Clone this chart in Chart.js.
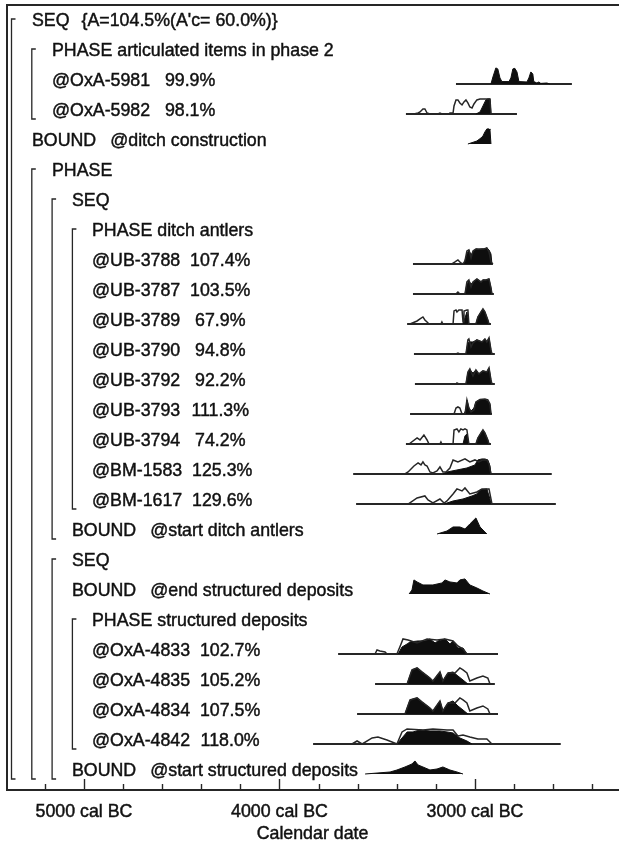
<!DOCTYPE html>
<html>
<head>
<meta charset="utf-8">
<title>Calendar date multiplot</title>
<script src="https://cdn.jsdelivr.net/npm/chart.js@4.4.0/dist/chart.umd.min.js"></script>
<style>
  html, body { margin: 0; padding: 0; background: #fff; }
  #wrap { width: 619px; height: 854px; }
</style>
</head>
<body>
<div id="wrap"><canvas id="chart" width="619" height="854"></canvas></div>
<script>
// ---- labels, one per row from top to bottom ----
const rowNames = [
  'SEQ', 'PHASE', '@OxA-5981', '@OxA-5982', 'BOUND', 'PHASE', 'SEQ', 'PHASE',
  '@UB-3788', '@UB-3787', '@UB-3789', '@UB-3790', '@UB-3792', '@UB-3793', '@UB-3794',
  '@BM-1583', '@BM-1617', 'BOUND', 'SEQ', 'BOUND', 'PHASE',
  '@OxA-4833', '@OxA-4835', '@OxA-4834', '@OxA-4842', 'BOUND'
];
const rowNotes = [
  "{A=104.5%(A'c= 60.0%)}", 'articulated items in phase 2', '99.9%', '98.1%',
  '@ditch construction', '', '', 'ditch antlers',
  '107.4%', '103.5%', '67.9%', '94.8%', '92.2%', '111.3%', '74.2%',
  '125.3%', '129.6%', '@start ditch antlers', '', '@end structured deposits', 'structured deposits',
  '102.7%', '105.2%', '107.5%', '118.0%', '@start structured deposits'
];
// nesting depth of each row
const rowDepth = [0, 1, 1, 1, 0, 1, 2, 3, 3, 3, 3, 3, 3, 3, 3, 3, 3, 2, 2, 2, 3, 3, 3, 3, 3, 2];
// SEQ / PHASE groups: [depth, first row, last row]
const groups = [[0, 0, 25], [1, 1, 3], [1, 5, 25], [2, 6, 17], [3, 7, 16], [2, 18, 25], [3, 20, 24]];

// ---- calendar axis (cal BC) ----
const axisTitle = 'Calendar date';
const axisFrom = 5399;
const axisTo = 2263;
const tickStep = 200;
const labelStep = 1000;

// ---- distributions: [year cal BC, relative probability] ----
const oxa5981Range = [3097, 2504];
const oxa5981Post = [[2918,0],[2908,0.35],[2893,0.8],[2883,0.75],[2872,0.3],[2862,0.12],[2826,0.12],[2816,0.3],[2806,0.75],[2796,0.78],[2785,0.6],[2775,0.12],[2734,0.1],[2724,0.3],[2714,0.6],[2704,0.5],[2699,0.12],[2683,0.05],[2673,0.1],[2663,0.03],[2632,0.05],[2617,0]];

const oxa5982Range = [3353, 2785];
const oxa5982Lik = [[3312,0],[3291,0.05],[3281,0.1],[3266,0.25],[3256,0.25],[3245,0.05],[3230,0],[3189,0],[3179,0.05],[3169,0],[3133,0],[3128,0.05],[3112,0.05],[3107,0.4],[3097,0.7],[3087,0.7],[3077,0.55],[3066,0.45],[3056,0.6],[3046,0.7],[3036,0.55],[3026,0.35],[3015,0.3],[3005,0.5],[2990,0.7],[2974,0.75],[2954,0.75],[2934,0.75],[2923,0.75],[2918,0]];
const oxa5982Post = [[2995,0],[2974,0.1],[2959,0.4],[2944,0.7],[2934,0.75],[2923,0.75],[2918,0]];

const ditchConstructionPost = [[3036,0],[3005,0.1],[2990,0.15],[2969,0.3],[2959,0.4],[2949,0.6],[2939,0.75],[2928,0.75],[2923,0.7],[2918,0]];

const ub3788Range = [3317, 2908];
const ub3788Lik = [[3118,0],[3102,0.1],[3087,0.2],[3072,0.05],[3061,0],[3051,0.15],[3041,0.65],[3031,0.7],[3020,0.3],[3010,0.65],[2995,0.75],[2974,0.75],[2954,0.75],[2939,0.8],[2928,0.6],[2918,0.1],[2908,0]];
const ub3788Post = [[3056,0],[3041,0.5],[3031,0.7],[3020,0.45],[3010,0.6],[2995,0.75],[2980,0.72],[2964,0.75],[2949,0.75],[2939,0.8],[2928,0.7],[2918,0.5],[2913,0]];

const ub3787Range = [3317, 2903];
const ub3787Lik = [[3097,0],[3087,0.1],[3077,0],[3051,0],[3041,0.6],[3031,0.7],[3020,0.35],[3010,0.6],[2990,0.75],[2969,0.6],[2959,0.7],[2944,0.7],[2928,0.75],[2918,0.3],[2913,0]];
const ub3787Post = [[3097,0],[3087,0.1],[3077,0],[3051,0],[3041,0.5],[3031,0.65],[3020,0.5],[3005,0.6],[2990,0.75],[2969,0.6],[2959,0.7],[2944,0.7],[2928,0.75],[2918,0.3],[2913,0]];

const ub3789Range = [3347, 2918];
const ub3789Lik = [[3332,0],[3296,0.15],[3281,0.25],[3266,0.35],[3256,0.2],[3245,0.1],[3235,0],[3174,0],[3169,0.1],[3164,0],[3112,0],[3107,0.65],[3097,0.7],[3092,0.6],[3082,0.7],[3066,0.7],[3061,0.1],[3056,0.65],[3041,0.7],[3036,0.7],[3031,0],[2995,0],[2985,0.35],[2969,0.6],[2959,0.75],[2949,0.6],[2934,0.2],[2928,0]];
const ub3789Post = [[3061,0],[3051,0.3],[3041,0.6],[3031,0],[2995,0],[2985,0.35],[2969,0.6],[2959,0.75],[2949,0.6],[2934,0.2],[2928,0]];

const ub3790Range = [3312, 2898];
const ub3790Lik = [[3097,0],[3087,0.05],[3077,0],[3046,0],[3036,0.7],[3031,0.75],[3020,0.35],[3010,0.55],[2990,0.7],[2964,0.6],[2949,0.75],[2939,0.6],[2928,0.8],[2918,0.2],[2913,0]];
const ub3790Post = [[3046,0],[3036,0.55],[3026,0.6],[3010,0.6],[2990,0.7],[2964,0.6],[2949,0.75],[2939,0.6],[2928,0.8],[2918,0.2],[2913,0]];

const ub3792Range = [3307, 2898];
const ub3792Lik = [[3097,0],[3092,0.05],[3082,0],[3046,0],[3036,0.6],[3026,0.75],[3010,0.4],[2995,0.7],[2980,0.5],[2959,0.65],[2939,0.6],[2928,0.8],[2918,0.2],[2913,0]];
const ub3792Post = [[3046,0],[3036,0.55],[3026,0.7],[3010,0.55],[2995,0.7],[2980,0.5],[2959,0.65],[2939,0.6],[2928,0.8],[2918,0.2],[2913,0]];

const ub3793Range = [3332, 2913];
const ub3793Lik = [[3107,0],[3097,0.3],[3087,0.35],[3077,0.3],[3066,0],[3051,0],[3041,0.7],[3031,0.3],[3020,0.1],[3005,0.2],[2995,0.6],[2974,0.72],[2949,0.75],[2934,0.7],[2923,0.5],[2918,0]];
const ub3793Post = [[3056,0],[3046,0.2],[3041,0.7],[3031,0.3],[3020,0.15],[3005,0.3],[2995,0.6],[2974,0.72],[2949,0.72],[2934,0.65],[2923,0.45],[2918,0]];

const ub3794Range = [3353, 2918];
const ub3794Lik = [[3337,0],[3296,0.3],[3281,0.2],[3261,0.45],[3245,0.2],[3235,0],[3179,0],[3174,0.1],[3169,0],[3112,0],[3107,0.7],[3092,0.75],[3082,0.6],[3072,0.75],[3061,0.7],[3051,0.75],[3041,0.7],[3031,0],[2995,0],[2985,0.3],[2969,0.55],[2959,0.7],[2949,0.55],[2934,0.2],[2928,0]];
const ub3794Post = [[3061,0],[3051,0.4],[3041,0.5],[3031,0],[2995,0],[2985,0.3],[2969,0.55],[2959,0.7],[2949,0.55],[2934,0.2],[2928,0]];

const bm1583Range = [3623, 2607];
const bm1583Lik = [[3358,0],[3342,0.1],[3312,0.4],[3291,0.55],[3276,0.45],[3266,0.6],[3256,0.45],[3245,0.4],[3230,0.1],[3215,0.05],[3194,0.15],[3179,0.35],[3164,0.1],[3148,0.1],[3128,0.3],[3112,0.7],[3087,0.6],[3051,0.75],[3026,0.6],[3000,0.7],[2980,0.6],[2959,0.7],[2939,0.7],[2928,0.5],[2918,0]];
const bm1583Post = [[3164,0],[3143,0.1],[3092,0.2],[3041,0.3],[3000,0.45],[2985,0.7],[2964,0.75],[2949,0.75],[2934,0.7],[2923,0.4],[2918,0]];

const bm1617Range = [3608, 2586];
const bm1617Lik = [[3342,0],[3296,0.3],[3256,0.4],[3240,0.2],[3215,0.05],[3179,0.25],[3158,0.05],[3143,0.15],[3112,0.5],[3092,0.75],[3066,0.65],[3051,0.8],[3026,0.5],[2990,0.6],[2964,0.75],[2928,0.75],[2913,0]];
const bm1617Post = [[3158,0],[3143,0.05],[3112,0.15],[3061,0.25],[3015,0.4],[2990,0.5],[2974,0.7],[2939,0.75],[2923,0.25],[2918,0]];

const startDitchAntlersPost = [[3194,0],[3143,0.15],[3112,0.35],[3077,0.35],[3051,0.25],[3026,0.5],[2995,0.8],[2974,0.35],[2949,0.1],[2939,0]];

const endStructuredPost = [[3337,0],[3322,0.2],[3312,0.7],[3296,0.6],[3266,0.45],[3215,0.45],[3169,0.55],[3153,0.7],[3128,0.6],[3092,0.55],[3077,0.7],[3051,0.75],[3026,0.45],[2990,0.3],[2959,0.15],[2923,0]];

const oxa4833Range = [3700, 2882];
const oxa4833Lik = [[3511,0],[3501,0.2],[3486,0.15],[3460,0.1],[3450,0],[3399,0],[3378,0.5],[3368,0.75],[3342,0.7],[3296,0.55],[3245,0.75],[3194,0.7],[3153,0.75],[3112,0.65],[3087,0.4],[3061,0.25],[3041,0]];
const oxa4833Post = [[3393,0],[3373,0.35],[3347,0.5],[3332,0.6],[3291,0.65],[3256,0.65],[3230,0.75],[3204,0.55],[3189,0.65],[3153,0.75],[3128,0.5],[3112,0.65],[3087,0.3],[3061,0.3],[3041,0]];

const oxa4835Range = [3511, 2898];
const oxa4835Lik = [[3347,0],[3322,0.7],[3296,0.8],[3271,0.6],[3230,0.3],[3215,0.15],[3179,0.6],[3164,0.15],[3138,0.55],[3102,0.55],[3077,0.8],[3061,0.7],[3041,0.55],[3026,0.15],[2990,0.3],[2959,0.4],[2934,0.3],[2923,0]];
const oxa4835Post = [[3347,0],[3322,0.7],[3296,0.8],[3271,0.6],[3230,0.3],[3215,0.15],[3179,0.6],[3164,0.15],[3138,0.55],[3112,0.6],[3087,0.4],[3061,0.2],[3036,0]];

const oxa4834Range = [3603, 2882];
const oxa4834Lik = [[3358,0],[3332,0.7],[3296,0.8],[3271,0.6],[3230,0.3],[3215,0.15],[3179,0.65],[3164,0.15],[3138,0.55],[3102,0.55],[3077,0.8],[3061,0.7],[3041,0.55],[3026,0.15],[2990,0.3],[2959,0.4],[2934,0.25],[2923,0]];
const oxa4834Post = [[3358,0],[3332,0.7],[3296,0.8],[3271,0.6],[3230,0.3],[3215,0.15],[3179,0.65],[3164,0.15],[3138,0.55],[3112,0.65],[3087,0.4],[3061,0.2],[3036,0]];

const oxa4842Range = [3828, 2561];
const oxa4842Lik = [[3629,0],[3603,0.15],[3577,0],[3526,0.3],[3496,0.35],[3450,0.2],[3399,0],[3373,0.6],[3347,0.75],[3266,0.7],[3215,0.75],[3143,0.7],[3112,0.7],[3087,0.4],[3061,0.45],[3026,0.35],[2985,0.25],[2939,0.25],[2913,0]];
const oxa4842Post = [[3399,0],[3373,0.3],[3347,0.6],[3317,0.6],[3281,0.7],[3230,0.65],[3179,0.65],[3143,0.6],[3112,0.55],[3077,0.3],[3041,0.15],[3015,0]];

const startStructuredPost = [[3562,0],[3434,0.1],[3399,0.2],[3358,0.35],[3322,0.5],[3307,0.65],[3291,0.45],[3266,0.35],[3230,0.2],[3194,0.25],[3164,0.35],[3128,0.2],[3092,0.1],[3061,0]];

// which row each distribution belongs to
const dists = [
  { row: 2, range: oxa5981Range, post: oxa5981Post },
  { row: 3, range: oxa5982Range, lik: oxa5982Lik, post: oxa5982Post },
  { row: 4, post: ditchConstructionPost },
  { row: 8, range: ub3788Range, lik: ub3788Lik, post: ub3788Post },
  { row: 9, range: ub3787Range, lik: ub3787Lik, post: ub3787Post },
  { row: 10, range: ub3789Range, lik: ub3789Lik, post: ub3789Post },
  { row: 11, range: ub3790Range, lik: ub3790Lik, post: ub3790Post },
  { row: 12, range: ub3792Range, lik: ub3792Lik, post: ub3792Post },
  { row: 13, range: ub3793Range, lik: ub3793Lik, post: ub3793Post },
  { row: 14, range: ub3794Range, lik: ub3794Lik, post: ub3794Post },
  { row: 15, range: bm1583Range, lik: bm1583Lik, post: bm1583Post },
  { row: 16, range: bm1617Range, lik: bm1617Lik, post: bm1617Post },
  { row: 17, post: startDitchAntlersPost },
  { row: 19, post: endStructuredPost },
  { row: 21, range: oxa4833Range, lik: oxa4833Lik, post: oxa4833Post },
  { row: 22, range: oxa4835Range, lik: oxa4835Lik, post: oxa4835Post },
  { row: 23, range: oxa4834Range, lik: oxa4834Lik, post: oxa4834Post },
  { row: 24, range: oxa4842Range, lik: oxa4842Lik, post: oxa4842Post },
  { row: 25, post: startStructuredPost }
];

const FONT = '"Liberation Sans", Arial, Helvetica, sans-serif';
const FONT_SIZE = 17.8;
const INK = '#111';
const LINE = '#262626';
const peakScale = 0.67; // full probability = 2/3 of a row

const toPoints = (pairs, row) => pairs.map(([yr, p]) => ({ x: yr, y: row - p * peakScale }));

const datasets = [];
dists.forEach((d) => {
  if (d.lik) {
    datasets.push({ data: toPoints(d.lik, d.row), borderColor: LINE, borderWidth: 1.5, fill: false, order: 0 });
  }
  datasets.push({
    data: toPoints(d.post, d.row), borderColor: '#0e0e0e', backgroundColor: '#0e0e0e',
    borderWidth: 1, fill: { value: d.row }, order: 1
  });
  if (d.range) {
    datasets.push({ data: d.range.map((yr) => ({ x: yr, y: d.row })), borderColor: LINE, borderWidth: 2.2, fill: false, order: 2 });
  }
});

// labels, brackets, frame and inside tick marks
const oxcalDecor = {
  id: 'oxcalDecor',
  afterDraw(chart) {
    const { ctx, chartArea: area, scales: { x, y } } = chart;
    ctx.save();
    ctx.strokeStyle = LINE;
    ctx.lineCap = 'butt';

    // frame
    ctx.lineWidth = 2;
    ctx.beginPath();
    ctx.moveTo(area.left + 1, area.bottom);
    ctx.lineTo(area.left + 1, area.top);
    ctx.moveTo(area.left, area.top);
    ctx.lineTo(area.right, area.top);
    ctx.moveTo(area.left, area.bottom);
    ctx.lineTo(area.right, area.bottom);
    ctx.stroke();

    // tick marks pointing up into the plot
    ctx.lineWidth = 1.4;
    x.ticks.forEach((t) => {
      if (t.value % tickStep !== 0) return;
      const px = Math.round(x.getPixelForValue(t.value)) + 0.5;
      const len = t.value % labelStep === 0 ? 11 : 6;
      ctx.beginPath();
      ctx.moveTo(px, area.bottom);
      ctx.lineTo(px, area.bottom - len);
      ctx.stroke();
    });

    // SEQ / PHASE brackets
    ctx.lineWidth = 1.3;
    groups.forEach(([depth, r0, r1]) => {
      const bx = area.left + 5.5 + depth * 20.3;
      const top = y.getPixelForValue(r0) - 5;
      const bottom = y.getPixelForValue(r1) + 5;
      ctx.beginPath();
      ctx.moveTo(bx + 4, top);
      ctx.lineTo(bx, top);
      ctx.lineTo(bx, bottom);
      ctx.lineTo(bx + 4, bottom);
      ctx.stroke();
    });

    // row texts (a thin stroke gives the heavier printed look)
    ctx.fillStyle = INK;
    ctx.strokeStyle = INK;
    ctx.lineWidth = 0.45;
    ctx.font = `${FONT_SIZE}px ${FONT}`;
    ctx.textBaseline = 'alphabetic';
    const put = (s, px, py) => { ctx.fillText(s, px, py); ctx.strokeText(s, px, py); };
    rowNames.forEach((name, i) => {
      const tx = area.left + 26 + rowDepth[i] * 20;
      const ty = y.getPixelForValue(i) + 2;
      ctx.textAlign = 'left';
      put(name, tx, ty);
      const note = rowNotes[i];
      if (!note) return;
      const end = tx + ctx.measureText(name).width;
      if (name.startsWith('@')) {
        ctx.textAlign = 'center';
        put(note, end + 40, ty);
      } else {
        const gap = name === 'PHASE' ? 5 : name === 'SEQ' ? 12 : 14;
        put(note, end + gap, ty);
      }
    });

    // axis title, same weight as the other texts
    ctx.textAlign = 'center';
    ctx.textBaseline = 'middle';
    put(axisTitle, (x.left + x.right) / 2, x.bottom - 9 - FONT_SIZE * 0.6);
    ctx.restore();
  }
};

new Chart(document.getElementById('chart'), {
  type: 'line',
  data: { datasets },
  options: {
    responsive: false,
    animation: false,
    devicePixelRatio: 1,
    events: [],
    layout: { padding: { left: 6, top: 5, right: 0, bottom: 0 } },
    elements: { point: { radius: 0 }, line: { tension: 0 } },
    plugins: { legend: { display: false }, tooltip: { enabled: false } },
    scales: {
      x: {
        type: 'linear',
        reverse: true,
        min: axisTo,
        max: axisFrom,
        grid: { display: false, drawTicks: false },
        border: { display: false },
        ticks: {
          stepSize: tickStep,
          includeBounds: false,
          autoSkip: false,
          maxRotation: 0,
          padding: 11,
          color: INK,
          textStrokeColor: INK,
          textStrokeWidth: 0.45,
          font: { family: FONT, size: FONT_SIZE },
          callback: (v) => (v % labelStep === 0 ? v + ' cal BC' : '')
        },
        afterFit: (scale) => { scale.height = 64; }
      },
      y: {
        type: 'linear',
        display: false,
        reverse: true,
        min: -0.633,
        max: 25.533
      }
    }
  },
  plugins: [oxcalDecor]
});
</script>
</body>
</html>
